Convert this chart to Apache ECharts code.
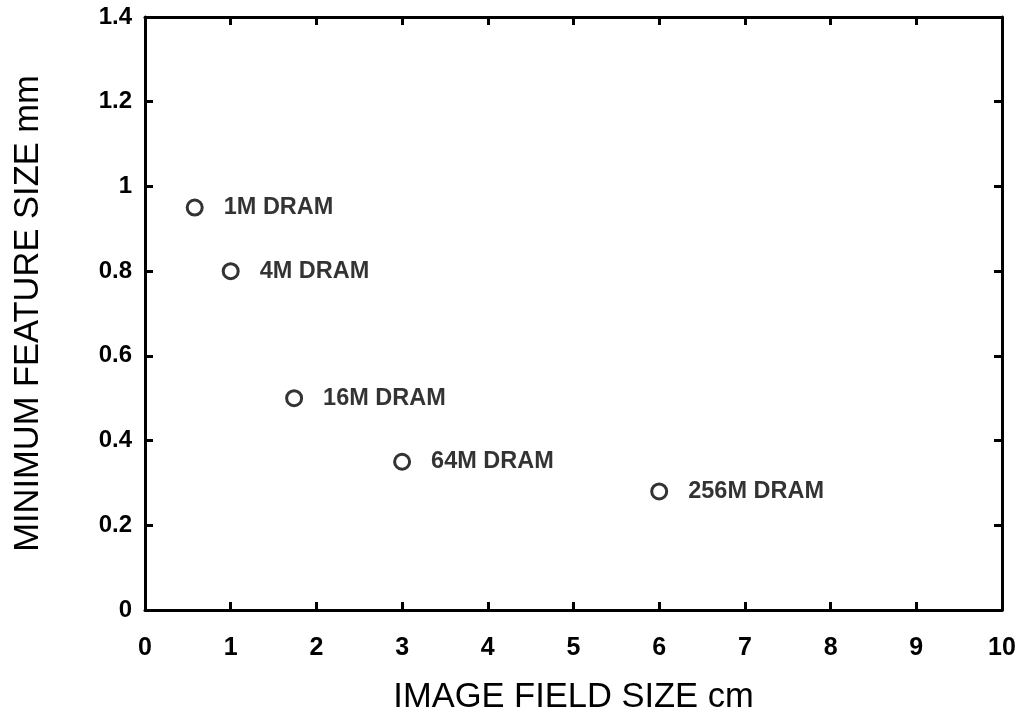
<!DOCTYPE html>
<html>
<head>
<meta charset="utf-8">
<script src="https://cdn.jsdelivr.net/npm/echarts@6/dist/echarts.min.js"></script>
<style>
html,body{margin:0;padding:0;background:#fff;}
#c{width:1026px;height:721px;}
</style>
</head>
<body>
<div id="c"></div>
<script>
var chips = ['1M DRAM', '4M DRAM', '16M DRAM', '64M DRAM', '256M DRAM'];
var fieldSize = [0.58, 1.0, 1.74, 3.0, 6.0];
var featureSize = [0.95, 0.80, 0.50, 0.35, 0.28];
var xTicks = [0, 1, 2, 3, 4, 5, 6, 7, 8, 9, 10];
var yTicks = [0, 0.2, 0.4, 0.6, 0.8, 1, 1.2, 1.4];

var FONT = '"Liberation Sans", Arial, Helvetica, sans-serif';
var chart = echarts.init(document.getElementById('c'), null, {renderer: 'canvas'});

function fmtY(v) { return String(Math.round(v * 10) / 10); }

var lineStyle = {color: '#000', width: 3};
var tickStyle = {inside: true, length: 8, lineStyle: {color: '#000', width: 3}};

var option = {
  backgroundColor: '#fff',
  animation: false,
  grid: {left: 145, right: 24, top: 17, bottom: 111, containLabel: false},
  xAxis: [{
    type: 'value', min: xTicks[0], max: xTicks[xTicks.length - 1], interval: 1,
    position: 'bottom',
    axisLine: {show: true, onZero: false, lineStyle: lineStyle},
    axisTick: tickStyle,
    splitLine: {show: false},
    axisLabel: {color: '#000', fontFamily: FONT, fontWeight: 'bold', fontSize: 25, margin: 26},
    name: 'IMAGE FIELD SIZE cm', nameLocation: 'middle', nameGap: 70,
    nameTextStyle: {color: '#000', fontFamily: FONT, fontSize: 34.5}
  }, {
    type: 'value', min: xTicks[0], max: xTicks[xTicks.length - 1], interval: 1,
    position: 'top',
    axisLine: {show: true, onZero: false, lineStyle: lineStyle},
    axisTick: tickStyle,
    splitLine: {show: false},
    axisLabel: {show: false}
  }],
  yAxis: [{
    type: 'value', min: yTicks[0], max: yTicks[yTicks.length - 1], interval: 0.2,
    position: 'left',
    axisLine: {show: true, onZero: false, lineStyle: lineStyle},
    axisTick: tickStyle,
    splitLine: {show: false},
    axisLabel: {color: '#000', fontFamily: FONT, fontWeight: 'bold', fontSize: 24, margin: 13, formatter: fmtY},
    name: 'MINIMUM FEATURE SIZE mm', nameLocation: 'middle', nameGap: 99,
    nameTextStyle: {color: '#000', fontFamily: FONT, fontSize: 34.5, padding: [0, 0, 0, 0]}
  }, {
    type: 'value', min: yTicks[0], max: yTicks[yTicks.length - 1], interval: 0.2,
    position: 'right',
    axisLine: {show: true, onZero: false, lineStyle: lineStyle},
    axisTick: tickStyle,
    splitLine: {show: false},
    axisLabel: {show: false}
  }],
  series: [{
    type: 'scatter',
    xAxisIndex: 0, yAxisIndex: 0,
    symbol: 'circle',
    symbolSize: 15,
    itemStyle: {color: '#fff', borderColor: '#000', borderWidth: 3},
    label: {
      show: true, position: 'right', distance: 20,
      formatter: function (p) { return p.name; },
      color: '#000', fontFamily: FONT, fontWeight: 'bold', fontSize: 23.5
    },
    data: chips.map(function (n, i) { return {name: n, value: [fieldSize[i], featureSize[i]]}; })
  }]
};
chart.setOption(option);
</script>
</body>
</html>
